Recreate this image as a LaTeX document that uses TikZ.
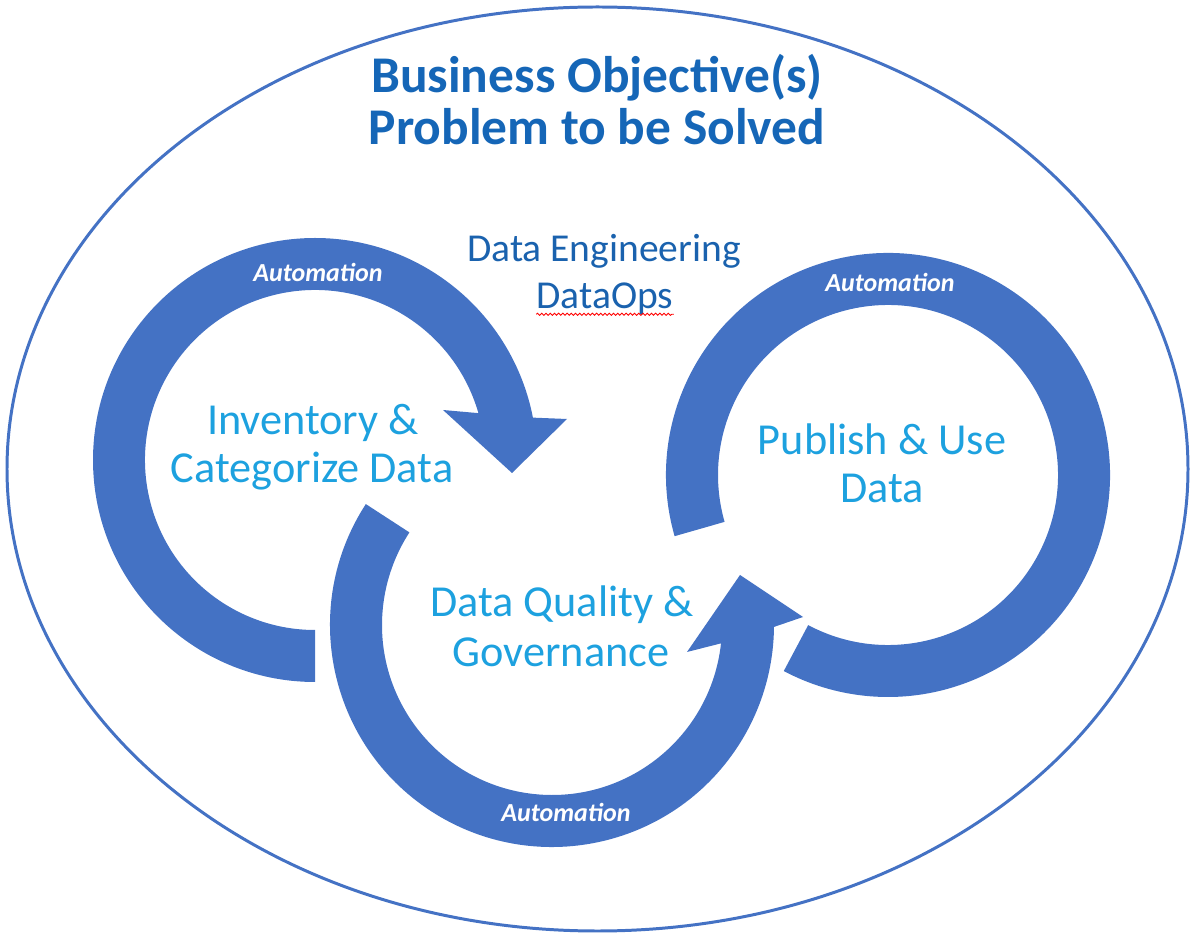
\documentclass[tikz,border=0pt]{standalone}
\usepackage{fontspec}
\setmainfont{Carlito}
\usetikzlibrary{positioning,decorations.pathmorphing}
\definecolor{ringblue}{HTML}{4472C4}
\definecolor{titleblue}{HTML}{1566B7}
\definecolor{engblue}{HTML}{1A62AE}
\definecolor{labblue}{HTML}{1DA1DF}
\tikzset{
  ring/.style={fill=ringblue},
  rand/.style={draw=ringblue,line width=1.7pt},
  cim/.style={text=titleblue,font=\bfseries\fontsize{29.3}{30}\selectfont,inner sep=0pt},
  eng/.style={text=engblue,font=\fontsize{22.5}{26.6}\selectfont,inner sep=0pt},
  lab/.style={text=labblue,font=\fontsize{25.2}{27.2}\selectfont,inner sep=0pt},
  autotxt/.style={text=white,font=\bfseries\itshape\fontsize{14.8}{16}\selectfont,inner sep=0pt},
}

\begin{document}
\begin{tikzpicture}[x=0.02cm,y=0.02cm]
  \useasboundingbox (0,0) rectangle (1200,940);
  \draw[rand] (597.5,471) ellipse [x radius=590.5,y radius=462];

  % left ring, arrow into the middle
  \begin{scope}[shift={(315,480)}]
    \fill[ring] (270:222) arc[start angle=270,end angle=11,radius=222]
      -- (252,41) -- (197,-13) -- (128,50) -- (16:170)
      arc[start angle=16,end angle=270,radius=170] -- cycle;
  \end{scope}
  % bottom ring, arrow up to the right ring
  \begin{scope}[shift={(552,315)}]
    \fill[ring] (147:170) -- (147:222) arc[start angle=147,end angle=359.5,radius=222]
      -- (251,8) -- (188,50) -- (135,-27) -- (353.8:170)
      arc[start angle=353.8,end angle=147,radius=170] -- cycle;
  \end{scope}
  % right ring
  \begin{scope}[shift={(888,465)}]
    \fill[ring] (196:170) -- (196:222) arc[start angle=196,end angle=-118,radius=222]
      -- (-118:170) arc[start angle=-118,end angle=196,radius=170] -- cycle;
  \end{scope}

  \node[cim,anchor=base] (cim1) at (597,847) {Business Objective(s)};
  \node[cim,anchor=base] (cim2) at (597,795) {Problem to be Solved};
  \node[eng,anchor=base] (eng1) at (604,678) {Data Engineering};
  \node[eng,anchor=base] (eng2) at (605,631) {DataOps};
  \draw[red,line width=0.5pt,decorate,decoration={snake,amplitude=0.6pt,segment length=2.4pt}]
    ([yshift=-3pt]eng2.base west) -- ([yshift=-3pt]eng2.base east);

  \node[autotxt,anchor=base] (auto1) at (318,658) {Automation};
  \node[autotxt,anchor=base] (auto3) at (890,648) {Automation};
  \node[autotxt,anchor=base] (auto2) at (566,118) {Automation};

  \node[lab,anchor=base] (inv1) at (313,505) {Inventory \&};
  \node[lab,anchor=base] (inv2) at (312,457) {Categorize Data};
  \node[lab,anchor=base] (dq1) at (562,323) {Data Quality \&};
  \node[lab,anchor=base] (dq2) at (561,273) {Governance};
  \node[lab,anchor=base] (pub1) at (882,485) {Publish \& Use};
  \node[lab,anchor=base] (pub2) at (882,437) {Data};
\end{tikzpicture}
\end{document}
